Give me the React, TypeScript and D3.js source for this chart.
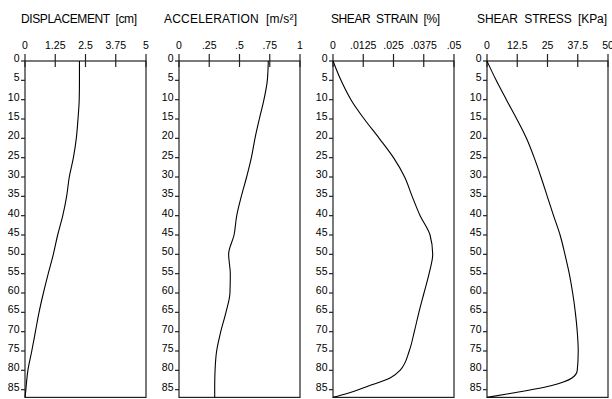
import React from "react";
import * as d3 from "d3";

const depths = [0, 5, 10, 15, 20, 25, 30, 35, 40, 45, 50, 55, 60, 65, 70, 75, 80, 82, 84, 86, 87];
const displacement = [2.25, 2.25, 2.24, 2.19, 2.12, 2.0, 1.83, 1.72, 1.56, 1.35, 1.17, 0.96, 0.76, 0.58, 0.43, 0.28, 0.12, 0.08, 0.05, 0.02, 0];
const acceleration = [0.738, 0.73, 0.702, 0.664, 0.628, 0.598, 0.559, 0.515, 0.477, 0.455, 0.41, 0.424, 0.421, 0.388, 0.345, 0.311, 0.298, 0.296, 0.295, 0.295, 0.295];
const shearStrain = [0, 0.0033, 0.0074, 0.0129, 0.0191, 0.025, 0.0296, 0.0327, 0.036, 0.0401, 0.0412, 0.0397, 0.0376, 0.0355, 0.0336, 0.0315, 0.0277, 0.0236, 0.0149, 0.0058, 0];
const shearStress = [0, 3.8, 8.0, 12.3, 16.3, 19.5, 22.3, 24.9, 27.5, 30.2, 32.2, 34.0, 35.4, 36.5, 37.3, 37.7, 37.3, 35.1, 26.4, 9.5, 0];

const titles = ["DISPLACEMENT  [cm]", "ACCELERATION  [m/s\u00B2]", "SHEAR  STRAIN  [%]", "SHEAR  STRESS  [KPa]"];
const xMaxima = [5, 1, 0.05, 50];
const dispTicks = ["0", "1.25", "2.5", "3.75", "5"];
const accTicks = ["0", ".25", ".5", ".75", "1"];
const strainTicks = ["0", ".0125", ".025", ".0375", ".05"];
const stressTicks = ["0", "12.5", "25", "37.5", "50"];
const depthTicks = [0, 5, 10, 15, 20, 25, 30, 35, 40, 45, 50, 55, 60, 65, 70, 75, 80, 85];
const depthMax = 87;

const W = 612;
const H = 399;
const panelLeft = 25;
const panelStep = 154;
const panelWidth = 121;
const top = 61;
const bottom = 397.4;
const titleSpans: [number, number][] = [[21, 137], [164, 297], [331, 440], [477, 607]];

export default function App() {
  const series = [displacement, acceleration, shearStrain, shearStress];
  const tickSets = [dispTicks, accTicks, strainTicks, stressTicks];
  const y = d3.scaleLinear().domain([0, depthMax]).range([top, bottom]);
  const font = "'Liberation Sans', Arial, sans-serif";
  const axisColor = "#222";

  return (
    <svg width={W} height={H} style={{ position: "absolute", left: 0, top: 0, background: "#fff" }}>
      <rect x={0} y={0} width={W} height={H} fill="#fff" />
      {series.map((vals, i) => {
        const x0 = panelLeft + i * panelStep;
        const x = d3.scaleLinear().domain([0, xMaxima[i]]).range([x0, x0 + panelWidth]);
        const line = d3
          .line<number>()
          .x((v) => x(v))
          .y((_, j) => y(depths[j]))
          .curve(d3.curveMonotoneY);
        const tickVals = d3.range(5).map((k) => (xMaxima[i] * k) / 4);
        const [tx0, tx1] = titleSpans[i];
        return (
          <g key={i}>
            <text
              x={tx0}
              y={23}
              fontFamily={font}
              fontSize={12}
              textLength={tx1 - tx0}
              lengthAdjust="spacing"
              style={{ whiteSpace: "pre" }}
              fill="#000"
            >
              {titles[i]}
            </text>
            {/* frame */}
            <rect
              x={x0}
              y={top}
              width={panelWidth}
              height={bottom - top}
              fill="none"
              stroke={axisColor}
              strokeWidth={1.2}
            />
            {/* top ticks */}
            {tickVals.map((t, k) => (
              <g key={k}>
                <line x1={x(t)} x2={x(t)} y1={top - 7} y2={top + 6} stroke={axisColor} strokeWidth={1.2} />
                <text
                  x={x(t)}
                  y={48.5}
                  textAnchor="middle"
                  fontFamily={font}
                  fontSize={10.5}
                  fill="#000"
                >
                  {tickSets[i][k]}
                </text>
              </g>
            ))}
            {/* depth ticks */}
            {depthTicks.map((d) => (
              <g key={d}>
                <line x1={x0 - 4} x2={x0} y1={y(d)} y2={y(d)} stroke={axisColor} strokeWidth={1.2} />
                <text
                  x={x0 - 5.5}
                  y={y(d) + 1}
                  textAnchor="end"
                  fontFamily={font}
                  fontSize={10.5}
                  fill="#000"
                >
                  {d}
                </text>
              </g>
            ))}
            <path d={line(vals) || ""} fill="none" stroke="#000" strokeWidth={1.1} />
          </g>
        );
      })}
    </svg>
  );
}
